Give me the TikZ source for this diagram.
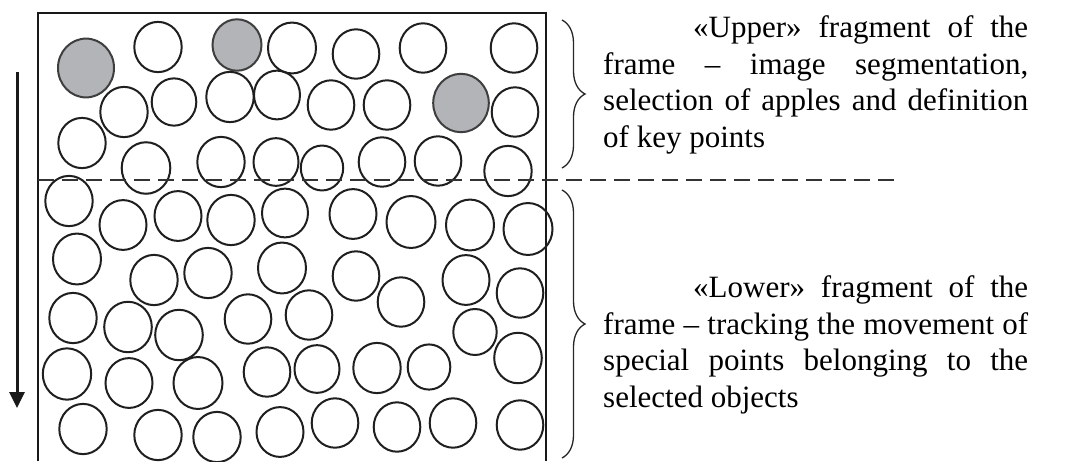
\documentclass[tikz,border=0pt]{standalone}
\usepackage{fontspec}
\setmainfont{Liberation Serif}
\usetikzlibrary{arrows.meta,decorations.pathreplacing}

% one justified line of a caption, spread to the full measure
\newcommand\jline[1]{\hbox to 425pt{\spaceskip=7.75pt plus 1fil minus 3pt\relax #1}}
\newcommand\capfont{\fontsize{31}{36.5}\selectfont}

\definecolor{applegray}{RGB}{179,180,183}
\definecolor{applerim}{RGB}{62,62,62}

\tikzset{
  frameline/.style={line width=1.8pt, black!90},
  apple/.style={line width=2pt, black!88},
  keyapple/.style={line width=2pt, draw=applerim, fill=applegray},
  splitline/.style={line width=1.5pt, black!80, dash pattern=on 16pt off 8pt},
  bracestyle/.style={line width=1.3pt, black!85, decorate, decoration={brace, amplitude=23pt}},
  caption/.style={inner sep=0pt, anchor=base west, font=\capfont},
  motion/.style={line width=3pt, black!90, -{Triangle[width=15pt,length=16pt]}}
}

\begin{document}
\begin{tikzpicture}[x=1pt, y=-1pt]
\useasboundingbox (0,0) rectangle (1083,461);

% conveyor frame (open at the bottom)
\draw[frameline] (38,461) -- (38,13) -- (546,13) -- (546,461);

% apples already selected in the upper fragment
\foreach \cx/\cy/\r in {86/68/28, 237/45/24.5, 461/103/27.8}
  \draw[keyapple] (\cx,\cy) ellipse [x radius=\r, y radius=1.05*\r];

% the remaining apples
\foreach \cx/\cy/\r in {
  158/47/23.7, 292/48/24, 356/54/23.3, 423/48/23.3, 514/48/23.3,
  124/112/23.7, 174/102/22.3, 230/97/23.7, 277/95/23, 331/105/23.3, 387/105/23.3, 515/112/23.3,
  82/143/23.7, 146/168/24.3, 221/162/23.7, 276/162/22.5, 322/168/21.2, 382/162/23.3, 438/161/23.3, 508/171/23.7,
  69/201/23.7, 123/225/23.5, 178/216/23.5, 231/220/23.7, 285/213/23, 353/214/23.5, 411/222/24.5, 470/225/24, 528/229/24.5,
  77/259/24, 154/280/23.7, 208/273/23.7, 282/268/24, 356/276/23.3, 401/302/23.3, 466/280/23.5, 520/293/23.3,
  73/318/23.7, 128/327/23.8, 179/335/23.8, 248/319/23.3, 309/315/23.3, 475/332/21.7, 518/358/23.8,
  67/374/24.2, 129/383/23.5, 198/383/24.5, 267/372/23.3, 317/369/22.5, 377/368/23.7, 429/367/21.3,
  83/429/23.7, 158/435/23.7, 217/437/23.7, 280/432/23.5, 335/423/23.3, 397/427/23.3, 453/423/23.3, 520/425/23.3}
  \draw[apple] (\cx,\cy) ellipse [x radius=\r, y radius=1.06*\r];

% boundary between the two fragments of the frame
\coordinate (splitL) at (38,180);
\coordinate (splitR) at (900,180);
\draw[splitline] (splitL) -- (splitR);

% direction of motion
\coordinate (motionTop) at (17,72);
\coordinate (motionEnd) at (17,408);
\draw[motion] (motionTop) -- (motionEnd);

% braces
\coordinate (ubTop) at (562,20);
\coordinate (ubBot) at (562,168);
\coordinate (lbTop) at (562,190);
\coordinate (lbBot) at (562,458);
\draw[bracestyle] (ubTop) -- (ubBot);
\draw[bracestyle] (lbTop) -- (lbBot);

% captions
\node[caption] (uppertext) at (603,147) {\vbox{\capfont
  \jline{\hspace*{90pt}«Upper» fragment of the}
  \jline{frame – image segmentation,}
  \jline{selection of apples and definition}
  \hbox{of key points}}};

\node[caption] (lowertext) at (603,407) {\vbox{\capfont
  \jline{\hspace*{90pt}«Lower» fragment of the}
  \jline{frame – tracking the movement of}
  \jline{special points belonging to the}
  \hbox{selected objects}}};

\end{tikzpicture}
\end{document}
